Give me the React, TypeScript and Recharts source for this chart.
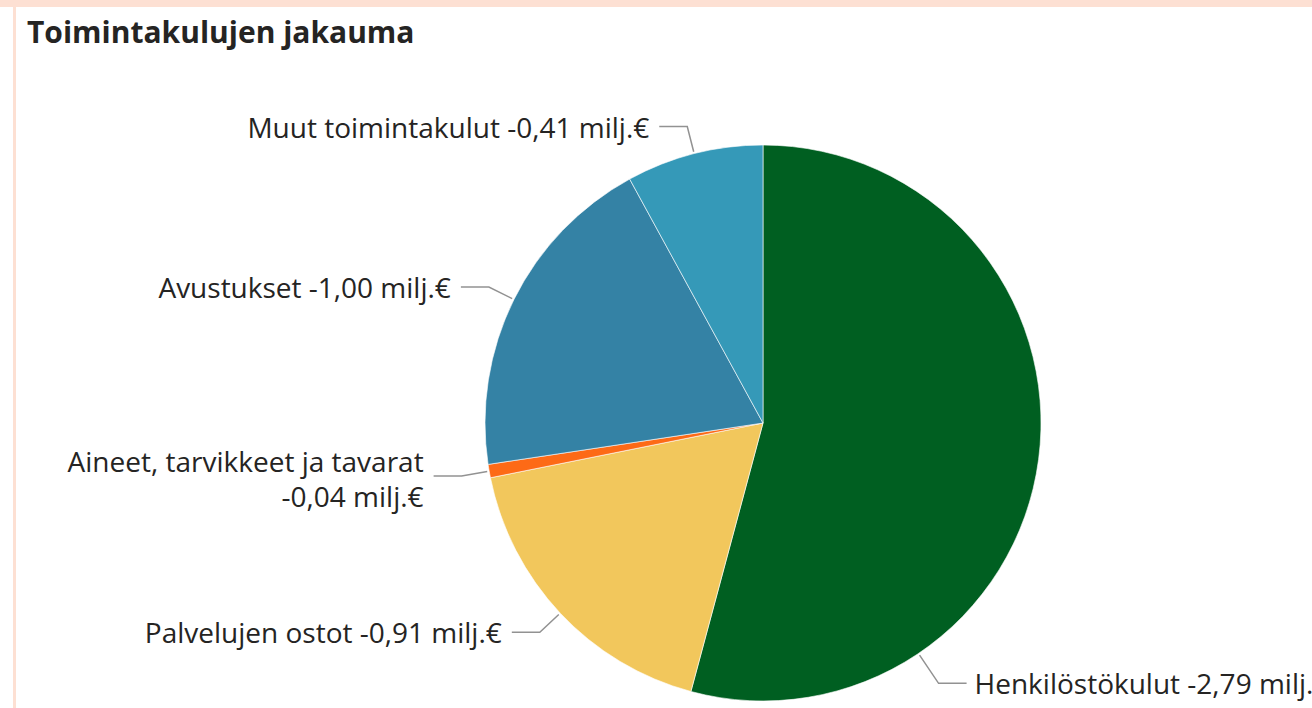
import { PieChart, Pie, Cell } from 'recharts'

const categories = [
  'Henkilöstökulut',
  'Palvelujen ostot',
  'Aineet, tarvikkeet ja tavarat',
  'Avustukset',
  'Muut toimintakulut',
]
const amounts = [-2.79, -0.91, -0.04, -1.0, -0.41]

const colors = ['#005F21', '#F2C75C', '#FD6A16', '#3482A5', '#3599B8']
// label placement tweaks (Power BI pushes the big slice label to the bottom)
const labelAngle: Record<number, number> = { 0: -56 }
const labelReach: Record<number, number> = { 0: 36 }
const twoLine = [2]

const fmt = (v: number) => `${v.toFixed(2).replace('.', ',')} milj.€`

const data = categories.map((name, i) => ({ name, value: Math.abs(amounts[i]), amount: amounts[i] }))

const RAD = Math.PI / 180
const FONT = '"Open Sans", sans-serif'

const renderLabel = (props: any) => {
  const { cx, cy, outerRadius, midAngle, index } = props
  const angle = labelAngle[index] ?? midAngle
  const reach = labelReach[index] ?? 28
  const cos = Math.cos(-angle * RAD)
  const sin = Math.sin(-angle * RAD)
  const sx = cx + (outerRadius + 2) * cos
  const sy = cy + (outerRadius + 2) * sin
  const mx = cx + (outerRadius + reach) * cos
  const my = cy + (outerRadius + reach) * sin
  const right = cos >= 0
  const ex = mx + (right ? 28 : -28)
  const tx = ex + (right ? 8 : -10)
  const name = categories[index]
  const val = fmt(amounts[index])
  const multi = twoLine.includes(index)
  return (
    <g key={`lbl-${index}`}>
      <polyline
        points={`${sx},${sy} ${mx},${my} ${ex},${my}`}
        fill="none"
        stroke="#929292"
        strokeWidth={1.5}
      />
      {multi ? (
        <text x={tx} y={my} textAnchor={right ? 'start' : 'end'} fill="#252423" fontSize={28} fontFamily={FONT}>
          <tspan x={tx} dy={-4}>{name}</tspan>
          <tspan x={tx} dy={35}>{val}</tspan>
        </text>
      ) : (
        <text
          x={tx}
          y={my}
          textAnchor={right ? 'start' : 'end'}
          dominantBaseline="central"
          fill="#252423"
          fontSize={28}
          fontFamily={FONT}
        >
          {`${name} ${val}`}
        </text>
      )}
    </g>
  )
}

export default function App() {
  return (
    <div style={{ position: 'absolute', left: 0, top: 0, width: 1312, height: 708, background: '#fff', overflow: 'hidden' }}>
      {/* frame */}
      <div style={{ position: 'absolute', left: 0, top: 0, width: 1312, height: 7, background: '#FDE0D3' }} />
      <div style={{ position: 'absolute', left: 13, top: 7, width: 3, height: 701, background: '#FDE0D3' }} />
      <div
        style={{
          position: 'absolute',
          left: 27,
          top: 12,
          fontFamily: FONT,
          fontWeight: 700,
          fontSize: 30,
          color: '#252423',
          whiteSpace: 'nowrap',
          lineHeight: '40px',
        }}
      >
        Toimintakulujen jakauma
      </div>
      <div style={{ position: 'absolute', left: 0, top: 0 }}>
        <PieChart width={1312} height={708} margin={{ top: 0, right: 0, bottom: 0, left: 0 }}>
          <Pie
            data={data}
            dataKey="value"
            nameKey="name"
            cx={763}
            cy={423}
            outerRadius={278}
            startAngle={90}
            endAngle={-270}
            stroke="#fff"
            strokeWidth={0.6}
            label={renderLabel}
            labelLine={false}
            isAnimationActive={false}
          >
            {data.map((d, i) => (
              <Cell key={d.name} fill={colors[i]} />
            ))}
          </Pie>
        </PieChart>
      </div>
    </div>
  )
}
